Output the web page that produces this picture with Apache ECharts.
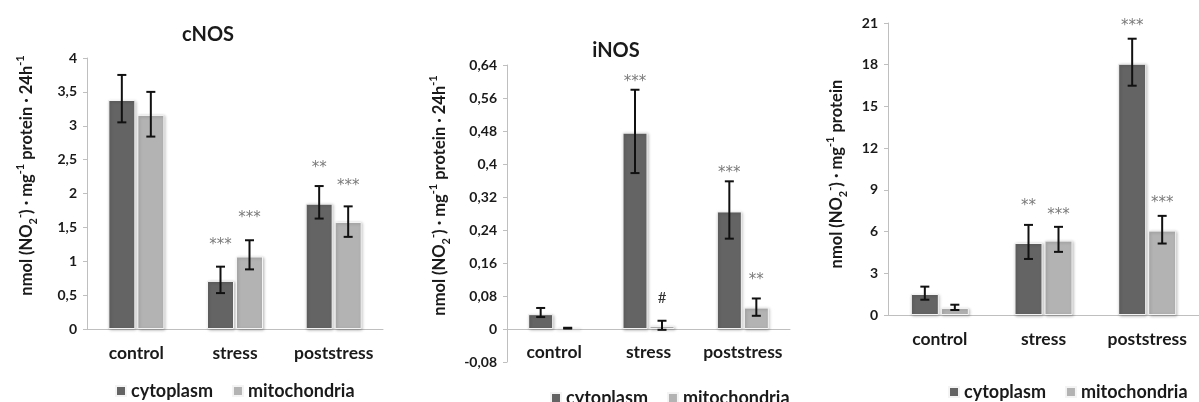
<!DOCTYPE html>
<html>
<head>
<meta charset="utf-8">
<script src="https://cdn.jsdelivr.net/npm/echarts@6/dist/echarts.min.js"></script>
<style>
html,body{margin:0;padding:0;background:#fff;}
#chart{width:1199px;height:402px;}
</style>
</head>
<body>
<div id="chart"></div>
<script>
// ---------- DATA ----------
const categories = ['control', 'stress', 'poststress'];
const seriesNames = ['cytoplasm', 'mitochondria'];

// cNOS
const cnosCyto = [3.38, 0.71, 1.85];
const cnosCytoLow = [3.05, 0.53, 1.63];
const cnosCytoHigh = [3.75, 0.92, 2.11];
const cnosMito = [3.16, 1.07, 1.58];
const cnosMitoLow = [2.84, 0.88, 1.36];
const cnosMitoHigh = [3.50, 1.31, 1.81];
const cnosCytoSig = ['', '***', '**'];
const cnosMitoSig = ['', '***', '***'];

// iNOS
const inosCyto = [0.036, 0.476, 0.285];
const inosCytoLow = [0.029, 0.378, 0.219];
const inosCytoHigh = [0.051, 0.580, 0.358];
const inosMito = [0.002, 0.007, 0.052];
const inosMitoLow = [0.001, -0.002, 0.032];
const inosMitoHigh = [0.003, 0.020, 0.074];
const inosCytoSig = ['', '***', '***'];
const inosMitoSig = ['', '#', '**'];

// total (third panel)
const totCyto = [1.51, 5.18, 18.07];
const totCytoLow = [1.10, 4.03, 16.49];
const totCytoHigh = [2.04, 6.48, 19.87];
const totMito = [0.50, 5.35, 6.07];
const totMitoLow = [0.36, 4.54, 5.14];
const totMitoHigh = [0.74, 6.34, 7.13];
const totCytoSig = ['', '**', '***'];
const totMitoSig = ['', '***', '***'];

// axis ticks
const yAxis1 = {min: 0, max: 4, interval: 0.5};
const yAxis2 = {min: -0.08, max: 0.64, interval: 0.08};
const yAxis3 = {min: 0, max: 21, interval: 3};

// ---------- STYLE / LAYOUT ----------
const FONT = 'Lato';
const C_CYTO = '#646464';
const C_MITO = '#b3b3b3';
const TXT = '#1a1a1a';
const AXIS = '#bfbfbf';

const panels = [
  {
    title: 'cNOS', titleX: 203, titleY: 20,
    grid: {left: 87, top: 58, width: 296, height: 271},
    y: yAxis1, barWidth: 27, labelMargin: 15,
    nameGap: 48, namePad: [0, 0, 0, 36], withHour: true,
    legend: {left: 110, top: 377},
    cyto: [cnosCyto, cnosCytoLow, cnosCytoHigh, cnosCytoSig, [0, 26, 22]],
    mito: [cnosMito, cnosMitoLow, cnosMitoHigh, cnosMitoSig, [0, 26, 24]]
  },
  {
    title: 'iNOS', titleX: 611, titleY: 36,
    grid: {left: 507, top: 65, width: 283, height: 297},
    y: yAxis2, barWidth: 25, labelMargin: -19,
    nameGap: 55, namePad: [0, 0, 0, 36], withHour: true,
    legend: {left: 545, top: 384},
    cyto: [inosCyto, inosCytoLow, inosCytoHigh, inosCytoSig, [0, 12, 12]],
    mito: [inosMito, inosMitoLow, inosMitoHigh, inosMitoSig, [0, 23, 22]]
  },
  {
    title: '', titleX: 0, titleY: 0,
    grid: {left: 888, top: 23, width: 318, height: 292},
    y: yAxis3, barWidth: 28, labelMargin: 15,
    nameGap: 39, namePad: [0, 10, 0, 0], withHour: false,
    legend: {left: 943, top: 378},
    cyto: [totCyto, totCytoLow, totCytoHigh, totCytoSig, [0, 23, 17]],
    mito: [totMito, totMitoLow, totMitoHigh, totMitoSig, [0, 16, 17]]
  }
];

function fmt(v) {
  const r = Math.round(v * 100) / 100;
  return String(r).replace('.', ',');
}

const nameRich = {
  m: {fontFamily: FONT, fontWeight: 'bold', fontSize: 16.5, color: TXT, lineHeight: 24, verticalAlign: 'middle'},
  sup: {fontFamily: FONT, fontWeight: 'bold', fontSize: 11, color: TXT, lineHeight: 11, verticalAlign: 'top'},
  sub: {fontFamily: FONT, fontWeight: 'bold', fontSize: 11, color: TXT, lineHeight: 11, verticalAlign: 'bottom'}
};

function yName(withHour) {
  let s = '{m|nmol (NO}{sub|2}{sup|-}{m|) · mg}{sup|-1}{m| protein}';
  if (withHour) s += '{m| · 24h}{sup|-1}';
  return s;
}

const option = {
  animation: false,
  backgroundColor: '#ffffff',
  title: [], grid: [], xAxis: [], yAxis: [], legend: [], series: []
};

panels.forEach((p, k) => {
  if (p.title) {
    option.title.push({
      text: p.title, left: p.titleX, top: p.titleY, textAlign: 'center',
      textStyle: {fontFamily: FONT, fontWeight: 'bold', fontSize: 20, color: TXT}
    });
  }
  option.grid.push(Object.assign({containLabel: false}, p.grid));
  option.xAxis.push({
    type: 'category', gridIndex: k, data: categories,
    axisLine: {onZero: true, lineStyle: {color: AXIS, width: 1}},
    axisTick: {show: false},
    axisLabel: {fontFamily: FONT, fontWeight: 'bold', fontSize: 17.5, color: TXT,
      margin: p.labelMargin, interval: 0, hideOverlap: false},
    splitLine: {show: false}
  });
  option.yAxis.push({
    type: 'value', gridIndex: k, min: p.y.min, max: p.y.max, interval: p.y.interval,
    axisLine: {show: true, onZero: false, lineStyle: {color: AXIS, width: 1}},
    axisTick: {show: true, length: 4, lineStyle: {color: AXIS}},
    axisLabel: {fontFamily: FONT, fontWeight: 'bold', fontSize: 14, color: TXT, margin: 10, formatter: fmt},
    splitLine: {show: false},
    name: yName(p.withHour), nameLocation: 'middle', nameGap: p.nameGap,
    nameTextStyle: {rich: nameRich, padding: p.namePad}
  });
  option.legend.push({
    data: seriesNames, left: p.legend.left, top: p.legend.top,
    icon: 'rect', itemWidth: 10, itemHeight: 10, itemGap: 19,
    textStyle: {fontFamily: FONT, fontWeight: 'bold', fontSize: 18, color: TXT}
  });

  const gapPx = 2;
  const off = (p.barWidth + gapPx) / 2;
  [[p.cyto, C_CYTO, -off, 0], [p.mito, C_MITO, off, 1]].forEach(([d, col, dx, si]) => {
    const vals = d[0], lows = d[1], highs = d[2], sig = d[3], sOff = d[4];
    option.series.push({
      type: 'bar', name: seriesNames[si], xAxisIndex: k, yAxisIndex: k,
      data: vals, barWidth: p.barWidth, barGap: (gapPx / p.barWidth * 100) + '%',
      itemStyle: {color: col, borderColor: '#f4f4f4', borderWidth: 1,
        shadowColor: 'rgba(0,0,0,0.25)', shadowBlur: 3, shadowOffsetX: 1, shadowOffsetY: 1},
      z: 2
    });
    option.series.push({
      type: 'custom', name: seriesNames[si] + ' error', xAxisIndex: k, yAxisIndex: k,
      data: categories.map((c, i) => [i, lows[i], highs[i]]),
      encode: {x: 0, y: [1, 2]},
      renderItem: function (params, api) {
        const i = api.value(0);
        const lo = api.coord([i, api.value(1)]);
        const hi = api.coord([i, api.value(2)]);
        const x = lo[0] + dx;
        const cap = 4.5;
        const st = {stroke: '#111', lineWidth: 2};
        const children = [
          {type: 'line', shape: {x1: x, y1: lo[1], x2: x, y2: hi[1]}, style: st},
          {type: 'line', shape: {x1: x - cap, y1: lo[1], x2: x + cap, y2: lo[1]}, style: st},
          {type: 'line', shape: {x1: x - cap, y1: hi[1], x2: x + cap, y2: hi[1]}, style: st}
        ];
        const label = sig[params.dataIndex];
        if (label) {
          const isHash = label === '#';
          children.push({
            type: 'text',
            style: {
              x: x, y: hi[1] - sOff[params.dataIndex] + (isHash ? 0 : 4),
              text: label,
              align: 'center', verticalAlign: 'middle',
              fontFamily: isHash ? FONT : 'DejaVu Sans', fontSize: 15,
              fill: isHash ? '#333' : '#7a7a7a'
            }
          });
        }
        return {type: 'group', children: children};
      },
      z: 5, silent: true
    });
  });
});

const chart = echarts.init(document.getElementById('chart'), null, {renderer: 'canvas'});
chart.setOption(option);
</script>
</body>
</html>
